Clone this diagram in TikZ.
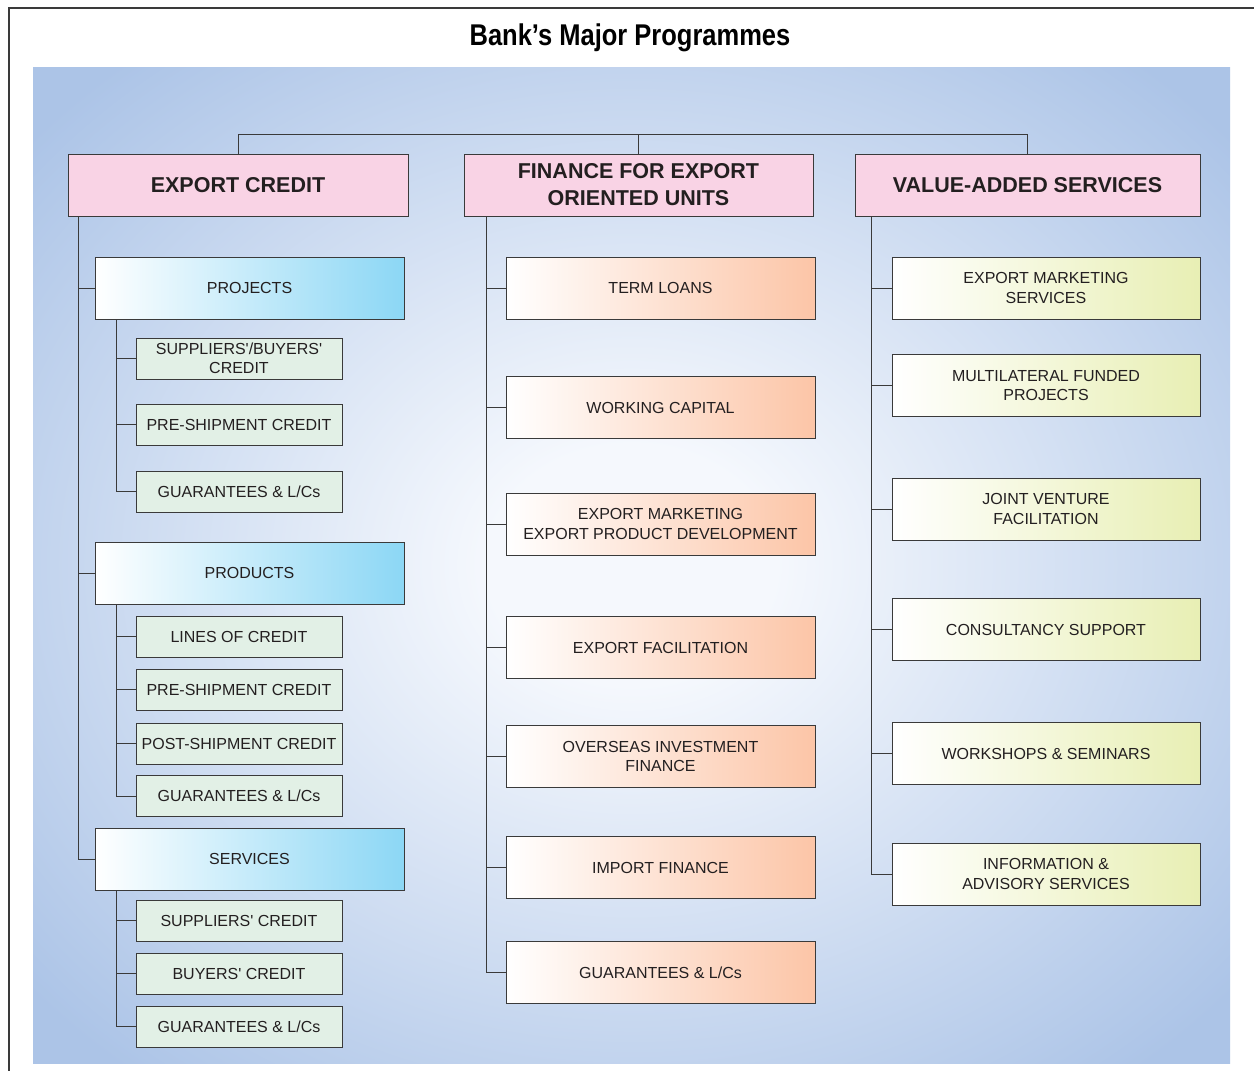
\documentclass[tikz,border=0pt]{standalone}
\usepackage{fontspec}
\setmainfont{Liberation Sans}
\newfontfamily\titlefont[FakeStretch=0.85]{Liberation Sans}
\usepackage{tikz}
\definecolor{bgblue}{HTML}{ACC4E7}
\definecolor{glow}{HTML}{F5F8FD}
\definecolor{headpink}{HTML}{F9D3E5}
\definecolor{cyanend}{HTML}{8CD7F5}
\definecolor{subgreen}{HTML}{E2F0E6}
\definecolor{peachend}{HTML}{FCC5A7}
\definecolor{limeend}{HTML}{E8EFB4}
\definecolor{linegray}{HTML}{3A3A3A}
\definecolor{txt}{HTML}{231F20}
\pgfdeclareradialshading{bgglow}{\pgfpoint{0bp}{0bp}}{color(0bp)=(glow); color(6bp)=(glow); color(33bp)=(bgblue); color(50bp)=(bgblue)}
\newcommand{\q}{\textquotesingle}
\tikzstyle{box} = [draw=linegray, line width=1pt, text=txt, align=center, inner sep=0pt, font={\fontsize{16}{19.5}\selectfont}]
\tikzstyle{head} = [box, fill=headpink, minimum height=62pt, font={\bfseries\fontsize{21.5}{27}\selectfont}]
\tikzstyle{group} = [box, minimum width=309pt, minimum height=62pt, left color=white, right color=cyanend]
\tikzstyle{item} = [box, minimum width=206pt, minimum height=41pt, fill=subgreen]
\tikzstyle{fin} = [box, minimum width=309pt, minimum height=62pt, left color=white, right color=peachend]
\tikzstyle{vas} = [box, minimum width=308pt, minimum height=62pt, left color=white, right color=limeend]
\tikzstyle{link} = [draw=linegray, line width=1pt]

\begin{document}
\begin{tikzpicture}[x=1pt,y=-1pt]
    \useasboundingbox (0,0) rectangle (1254,1071);
    \fill[white] (0,0) rectangle (1254,1071);
    \draw[line width=1.5pt, linegray] (9,1071) -- (9,8) -- (1254,8);
    \shade[shading=bgglow] (33,67) rectangle (1230,1063);
    \node[font={\titlefont\bfseries\fontsize{30}{30}\selectfont}](title) at (630,38){Bank’s Major Programmes};

    % top level
    \node[head, minimum width=340pt](ec) at (238,185){EXPORT CREDIT};
    \node[head, minimum width=349pt](fe) at (638.5,185){FINANCE FOR EXPORT\\ORIENTED UNITS};
    \node[head, minimum width=345pt](va) at (1027.5,185){VALUE-ADDED SERVICES};
    \draw[link](ec.north) -- ++(0,-19) -| (va.north);
    \draw[link](fe.north) -- ++(0,-19);

    % export credit
    \node[group](proj) at (249.5,288){PROJECTS};
    \node[group](prod) at (249.5,573){PRODUCTS};
    \node[group](serv) at (249.5,859){SERVICES};
    \foreach \g in {proj,prod,serv}
      \draw[link]([xshift=11pt]ec.south west) |- (\g.west);

    \node[item](sbc) at (239,358.5){SUPPLIERS\q/BUYERS\q\\CREDIT};
    \node[item](psa) at (239,424.5){PRE-SHIPMENT CREDIT};
    \node[item](gla) at (239,491.5){GUARANTEES \& L/Cs};
    \foreach \i in {sbc,psa,gla}
      \draw[link]([xshift=22pt]proj.south west) |- (\i.west);

    \node[item](loc) at (239,636.5){LINES OF CREDIT};
    \node[item](psb) at (239,689.5){PRE-SHIPMENT CREDIT};
    \node[item](posc) at (239,743.5){POST-SHIPMENT CREDIT};
    \node[item](glb) at (239,796){GUARANTEES \& L/Cs};
    \foreach \i in {loc,psb,posc,glb}
      \draw[link]([xshift=22pt]prod.south west) |- (\i.west);

    \node[item](sc) at (239,920.5){SUPPLIERS\q{} CREDIT};
    \node[item](bc) at (239,973.5){BUYERS\q{} CREDIT};
    \node[item](glc) at (239,1026.5){GUARANTEES \& L/Cs};
    \foreach \i in {sc,bc,glc}
      \draw[link]([xshift=22pt]serv.south west) |- (\i.west);

    % finance for export oriented units
    \node[fin](tl) at (660.5,288){TERM LOANS};
    \node[fin](wc) at (660.5,407.5){WORKING CAPITAL};
    \node[fin](em) at (660.5,524){EXPORT MARKETING\\EXPORT PRODUCT DEVELOPMENT};
    \node[fin](ef) at (660.5,647.5){EXPORT FACILITATION};
    \node[fin](oi) at (660.5,756.5){OVERSEAS INVESTMENT\\FINANCE};
    \node[fin](imf) at (660.5,867.5){IMPORT FINANCE};
    \node[fin](gld) at (660.5,972.5){GUARANTEES \& L/Cs};
    \foreach \i in {tl,wc,em,ef,oi,imf,gld}
      \draw[link]([xshift=23pt]fe.south west) |- (\i.west);

    % value-added services
    \node[vas](ems) at (1046,288){EXPORT MARKETING\\SERVICES};
    \node[vas](mfp) at (1046,385.5){MULTILATERAL FUNDED\\PROJECTS};
    \node[vas](jv) at (1046,509){JOINT VENTURE\\FACILITATION};
    \node[vas](cs) at (1046,629.5){CONSULTANCY SUPPORT};
    \node[vas](ws) at (1046,753.5){WORKSHOPS \& SEMINARS};
    \node[vas](ias) at (1046,874){INFORMATION \&\\ADVISORY SERVICES};
    \foreach \i in {ems,mfp,jv,cs,ws,ias}
      \draw[link]([xshift=17pt]va.south west) |- (\i.west);
  \end{tikzpicture}
\end{document}
